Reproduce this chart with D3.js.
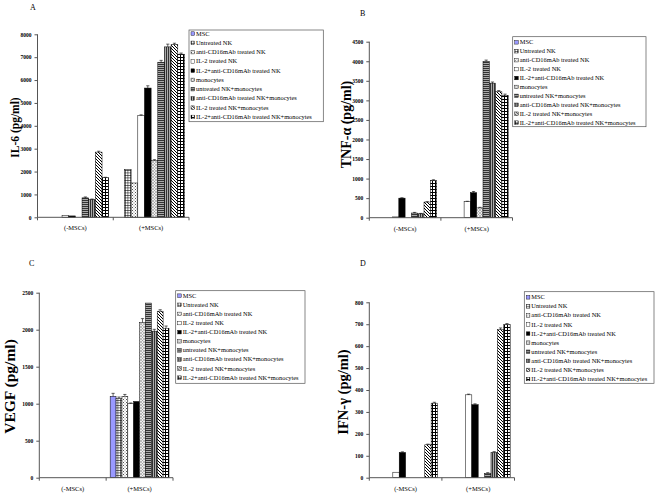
<!DOCTYPE html>
<html><head><meta charset="utf-8">
<script src="https://cdn.jsdelivr.net/npm/d3@7"></script>
<style>body{margin:0;background:#fff}svg{display:block}text{font-family:"Liberation Serif","Times New Roman",serif}</style>
</head><body><svg id="c" width="661" height="497"></svg>
<script>
const categories = ["(-MSCs)", "(+MSCs)"];
const series = ["MSC","Untreated NK","anti-CD16mAb  treated NK","IL-2 treated NK","IL-2+anti-CD16mAb  treated NK","monocytes","untreated NK+monocytes","anti-CD16mAb  treated NK+monocytes","IL-2 treated NK+monocytes","IL-2+anti-CD16mAb  treated NK+monocytes"];

const il6Minus = [0,0,0,70,60,0,850,780,2850,1730];
const il6Plus  = [0,2080,1500,4450,5650,2480,6780,7450,7550,7130];
const il6ErrMinus = [0,0,0,0,0,0,40,20,40,20];
const il6ErrPlus  = [0,0,0,30,100,40,80,120,60,50];
const il6Ticks = [0,1000,2000,3000,4000,5000,6000,7000,8000];

const tnfMinus = [0,0,0,20,500,0,120,100,400,950];
const tnfPlus  = [0,0,0,410,640,250,4000,3440,3220,3130];
const tnfErrMinus = [0,0,0,0,10,0,15,10,10,20];
const tnfErrPlus  = [0,0,0,10,30,15,30,30,30,30];
const tnfTicks = [0,500,1000,1500,2000,2500,3000,3500,4000,4500];

const vegfMinus = [0,0,0,0,0,0,0,0,0,0];
const vegfPlus  = [1100,1070,1100,1000,1030,2100,2360,1980,2250,2020];
const vegfErrMinus = [0,0,0,0,0,0,0,0,0,0];
const vegfErrPlus  = [40,20,25,10,0,50,0,25,20,30];
const vegfTicks = [0,500,1000,1500,2000,2500];

const ifnMinus = [0,0,0,25,115,0,0,0,150,340];
const ifnPlus  = [0,0,0,378,333,0,20,115,675,698];
const ifnErrMinus = [0,0,0,0,3,0,0,0,3,4];
const ifnErrPlus  = [0,0,0,3,4,0,3,4,8,5];
const ifnTicks = [0,100,200,300,400,500,600,700,800];

const svg = d3.select("#c");
const defs = svg.append("defs");

function pat(id, w, h, build){
  const p = defs.append("pattern").attr("id",id).attr("patternUnits","userSpaceOnUse").attr("width",w).attr("height",h);
  build(p);
}
pat("p0",4,4,p=>p.append("rect").attr("width",4).attr("height",4).attr("fill","#9999ff"));
pat("p1",2.5,2.5,p=>{p.append("rect").attr("width",2.5).attr("height",2.5).attr("fill","#fff");
  p.append("path").attr("d","M0,0.3H2.5M0.3,0V2.5").attr("stroke","#000").attr("stroke-width",0.6);});
pat("p2",3,3,p=>{p.append("rect").attr("width",3).attr("height",3).attr("fill","#fff");
  p.append("rect").attr("x",0).attr("y",0).attr("width",1).attr("height",1).attr("fill","#555");
  p.append("rect").attr("x",1.5).attr("y",1.5).attr("width",1).attr("height",1).attr("fill","#777");});
pat("p3",4,4,p=>p.append("rect").attr("width",4).attr("height",4).attr("fill","#fff"));
pat("p4",4,4,p=>p.append("rect").attr("width",4).attr("height",4).attr("fill","#000"));
pat("p5",3,3,p=>{p.append("rect").attr("width",3).attr("height",3).attr("fill","#eee");
  p.append("path").attr("d","M0,0L3,3M3,0L0,3").attr("stroke","#888").attr("stroke-width",0.5);});
pat("p6",2,2,p=>{p.append("rect").attr("width",2).attr("height",2).attr("fill","#aaa");
  p.append("rect").attr("width",2).attr("height",1).attr("fill","#333");});
pat("p7",2,2,p=>{p.append("rect").attr("width",2).attr("height",2).attr("fill","#aaa");
  p.append("rect").attr("width",1).attr("height",2).attr("fill","#333");});
pat("p8",3,3,p=>{p.append("rect").attr("width",3).attr("height",3).attr("fill","#fff");
  p.append("path").attr("d","M-1,-1L4,4M-1,2L1,4M2,-1L4,1").attr("stroke","#000").attr("stroke-width",1);});
pat("p9",3,3,p=>{p.append("rect").attr("width",3).attr("height",3).attr("fill","#000");
  p.append("rect").attr("x",1).attr("y",1).attr("width",2).attr("height",2).attr("fill","#fff");});

function drawPanel(cfg){
  const g = svg.append("g");
  const x = d3.scaleBand().domain(categories).range([cfg.x0,cfg.x1]);
  const xs = d3.scaleBand().domain(d3.range(series.length)).range([x.bandwidth()*0.06, x.bandwidth()*0.94]);
  const y = d3.scaleLinear().domain([0,cfg.max]).range([cfg.y0,cfg.yTop]);
  const data = [];
  categories.forEach((c,ci)=>{
    cfg.values[ci].forEach((v,si)=>data.push({c,si,v,e:cfg.errs[ci][si]}));
  });
  const bars = data.filter(d=>d.v>0);
  g.selectAll("rect.bar").data(bars).enter().append("rect")
    .attr("x",d=>x(d.c)+xs(d.si)).attr("width",xs.bandwidth())
    .attr("y",d=>y(d.v)).attr("height",d=>y(0)-y(d.v))
    .attr("fill",d=>`url(#p${d.si})`).attr("stroke","#000").attr("stroke-width",0.5);
  const eb = bars.filter(d=>d.e>0);
  g.selectAll("path.err").data(eb).enter().append("path")
    .attr("d",d=>{const cx=x(d.c)+xs(d.si)+xs.bandwidth()/2, t=y(d.v+d.e), b=y(d.v);
      return `M${cx},${b}V${t}M${cx-1.6},${t}H${cx+1.6}`;})
    .attr("stroke","#000").attr("stroke-width",0.6).attr("fill","none");
  const ya = g.append("g").attr("transform",`translate(${cfg.x0},0)`)
    .call(d3.axisLeft(y).tickValues(cfg.ticks).tickSize(3).tickPadding(3).tickFormat(d3.format("d")));
  ya.select(".domain").attr("stroke","#555").attr("d",`M0,${cfg.y0}V${cfg.yTop}`);
  ya.selectAll(".tick line").attr("stroke","#555");
  ya.selectAll("text").attr("font-family","Liberation Serif").attr("font-weight","bold").attr("font-size",5.5).attr("fill","#000");
  const xa = g.append("g").attr("transform",`translate(0,${cfg.y0})`);
  xa.append("path").attr("d",`M${cfg.x0},0H${cfg.x1}`).attr("stroke","#555").attr("stroke-width",1);
  [cfg.x0, x(categories[1]), cfg.x1].forEach(t=>xa.append("path").attr("d",`M${t},0V3`).attr("stroke","#555"));
  xa.selectAll("text.cat").data(categories).enter().append("text")
    .attr("x",d=>x(d)+x.bandwidth()/2).attr("y",13).attr("text-anchor","middle")
    .attr("font-size",6.5).text(d=>d);
  g.append("text").attr("transform",`translate(${cfg.tx},${cfg.ty}) rotate(-90)`)
    .attr("text-anchor","middle").attr("font-weight","bold").attr("font-size",cfg.tfs).text(cfg.title);
  g.append("text").attr("x",cfg.lx).attr("y",cfg.ly).attr("font-size",8).text(cfg.letter);
  const L = cfg.legend;
  g.append("rect").attr("x",L.x).attr("y",L.y).attr("width",L.w).attr("height",L.h)
    .attr("fill","#fff").attr("stroke","#555").attr("stroke-width",0.7);
  const items = g.selectAll("g.li").data(series).enter().append("g")
    .attr("transform",(d,i)=>`translate(${L.x+2},${L.y0+i*L.dy})`);
  items.append("rect").attr("x",0).attr("y",-1.8).attr("width",3.6).attr("height",3.6)
    .attr("fill",(d,i)=>`url(#p${i})`).attr("stroke","#000").attr("stroke-width",0.4);
  items.append("text").attr("x",5).attr("y",2).attr("font-size",6.4).text(d=>d);
}

drawPanel({letter:"A",lx:30,ly:10,x0:37.5,x1:189,y0:217.3,yTop:34.3,max:8000,ticks:il6Ticks,
  values:[il6Minus,il6Plus],errs:[il6ErrMinus,il6ErrPlus],title:"IL-6 (pg/ml)",tx:19,ty:127.5,tfs:11.5,
  legend:{x:189,y:30,w:134.3,h:91.7,y0:33.6,dy:9.26}});
drawPanel({letter:"B",lx:360,ly:16,x0:369.3,x1:512.5,y0:217.7,yTop:41.7,max:4500,ticks:tnfTicks,
  values:[tnfMinus,tnfPlus],errs:[tnfErrMinus,tnfErrPlus],title:"TNF-\u03b1 (pg/ml)",tx:351,ty:124.5,tfs:14,
  legend:{x:512.7,y:36.7,w:133.3,h:90,y0:42.3,dy:8.93}});
drawPanel({letter:"C",lx:29,ly:266,x0:39.3,x1:173,y0:477.7,yTop:292.7,max:2500,ticks:vegfTicks,
  values:[vegfMinus,vegfPlus],errs:[vegfErrMinus,vegfErrPlus],title:"VEGF (pg/ml)",tx:15,ty:386.5,tfs:15.5,
  legend:{x:175.7,y:290.7,w:129.3,h:92.6,y0:295.7,dy:9.11}});
drawPanel({letter:"D",lx:360,ly:266,x0:369.3,x1:514.5,y0:477.7,yTop:302.3,max:800,ticks:ifnTicks,
  values:[ifnMinus,ifnPlus],errs:[ifnErrMinus,ifnErrPlus],title:"IFN-\u03b3 (pg/ml)",tx:348,ty:392,tfs:14.5,
  legend:{x:524.3,y:291.7,w:129.7,h:91.6,y0:297.3,dy:9.08}});
</script></body></html>
